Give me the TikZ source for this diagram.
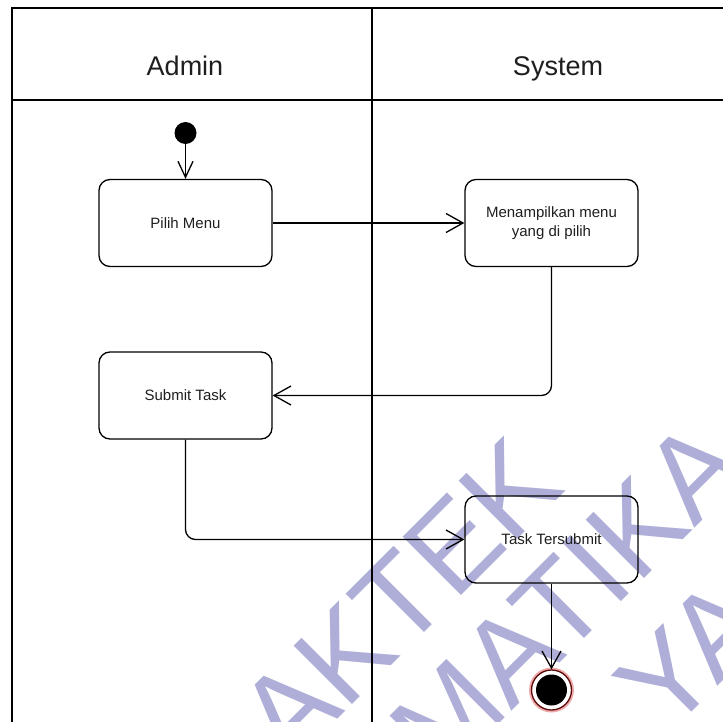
\documentclass[tikz,border=0pt]{standalone}
\usepackage{fontspec}
\setmainfont{Liberation Sans}
\usetikzlibrary{arrows.meta}
\definecolor{wm}{RGB}{174,174,216}
\definecolor{txt}{RGB}{30,30,30}
\definecolor{endred}{RGB}{90,10,10}
\definecolor{halo}{RGB}{240,170,170}
\begin{document}
\begin{tikzpicture}[x=1pt,y=-1pt,
  act/.style={draw, rounded corners=11pt, line width=1.3pt, minimum width=173pt, minimum height=87pt, inner sep=0pt, font=\fontsize{15}{19}\selectfont, text=txt, align=center},
  flow/.style={line width=1.3pt, -{Straight Barb[length=17pt,width=19pt]}, rounded corners=10pt},
  startflow/.style={line width=1.3pt, -{Straight Barb[length=16pt,width=15pt]}},
  lane/.style={line width=1.8pt},
  lanetitle/.style={font=\fontsize{27}{30}\selectfont, text=txt, inner sep=0pt, anchor=base},
  wmtext/.style={text=wm, font=\fontsize{120}{120}\selectfont, anchor=base west, inner sep=0pt, rotate=45}]
\useasboundingbox (0,0) rectangle (723,722);
\clip (0,0) rectangle (723,722);
% watermark
\node[wmtext] (w1) at (289,768) {AKTEK};
\node[wmtext] (w2) at (441,782) {MATIKA};
\node[wmtext] (w3) at (667,737) {YA};
% lanes
\draw[lane] (760,8) -- (12,8) -- (12,760);
\draw[lane] (12,100) -- (760,100);
\draw[lane] (372,8) -- (372,760);
\node[lanetitle] (admin) at (185,76) {Admin};
\node[lanetitle] (system) at (558,76) {System};
% nodes
\node[circle, fill=black, minimum size=22pt, inner sep=0pt] (start) at (185.5,133) {};
\node[act] (pilih) at (185.5,223) {Pilih Menu};
\node[act] (menu) at (551.5,223) {Menampilkan menu\\yang di pilih};
\node[act] (submit) at (185.5,395.5) {Submit Task};
\node[act] (tt) at (551.5,539.5) {Task Tersubmit};
\node[circle, draw=halo, line width=3pt, minimum size=42pt, inner sep=0pt] (endhalo) at (551.5,690) {};
\node[circle, draw=endred, fill=white, line width=1.3pt, minimum size=40pt, inner sep=0pt] (endring) at (551.5,690) {};
\node[circle, fill=black, minimum size=31pt, inner sep=0pt] (enddot) at (551.5,690) {};
% connectors
\draw[startflow] (start.south) -- (pilih.north);
\draw[flow] (pilih.east) -- (menu.west);
\draw[flow] (menu.south) |- (submit.east);
\draw[flow] (submit.south) |- (tt.west);
\draw[flow] (tt.south) -- (endring.north);
\end{tikzpicture}
\end{document}
